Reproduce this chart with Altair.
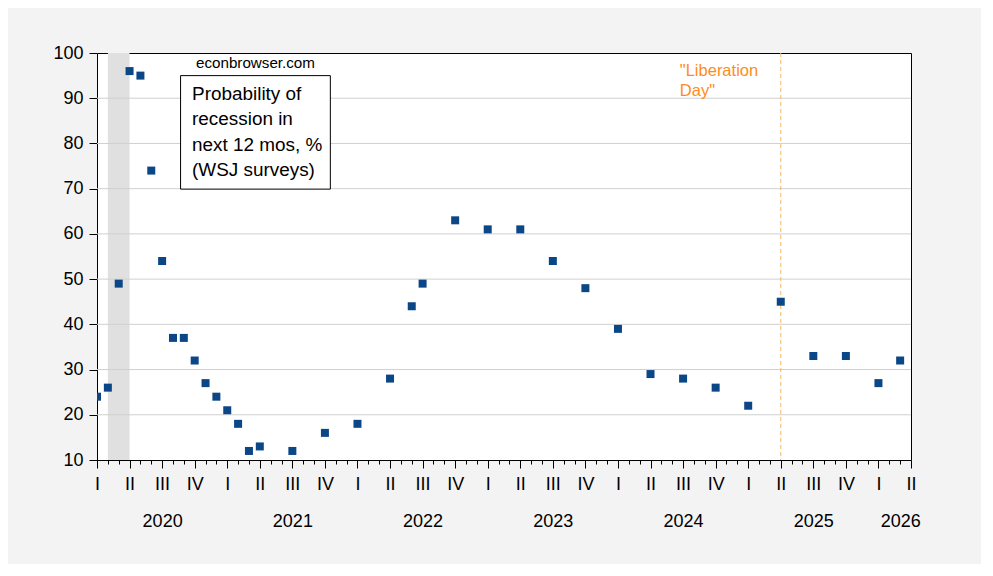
import pandas as pd
import altair as alt

# WSJ survey: probability of recession in next 12 months, %
survey_dates = ['2020-01', '2020-02', '2020-03', '2020-04', '2020-05', '2020-06',
                '2020-07', '2020-08', '2020-09', '2020-10', '2020-11', '2020-12',
                '2021-01', '2021-02', '2021-03', '2021-04', '2021-07', '2021-10',
                '2022-01', '2022-04', '2022-06', '2022-07', '2022-10', '2023-01',
                '2023-04', '2023-07', '2023-10', '2024-01', '2024-04', '2024-07',
                '2024-10', '2025-01', '2025-04', '2025-07', '2025-10', '2026-01',
                '2026-03']
prob = [24, 26, 49, 96, 95, 74, 54, 37, 37, 32, 27, 24,
        21, 18, 12, 13, 12, 16, 18, 28, 44, 49, 63, 61,
        61, 54, 48, 39, 29, 28, 26, 22, 45, 33, 33, 27,
        32]

recession_start = ['2020-02']
recession_end = ['2020-04']
liberation_day = ['2025-04']
y_ticks = [10, 20, 30, 40, 50, 60, 70, 80, 90, 100]
quarter_names = ['I', 'II', 'III', 'IV']
year_labels = ['2020', '2021', '2022', '2023', '2024', '2025', '2026']
year_label_pos = ['2020-07', '2021-07', '2022-07', '2023-07', '2024-07', '2025-07', '2026-03']


def month_index(s):
    y, m = s.split('-')
    return (int(y) - 2020) * 12 + int(m) - 1


pts = pd.DataFrame({'m': [month_index(d) for d in survey_dates], 'p': prob})
rec = pd.DataFrame({'start': [month_index(d) for d in recession_start],
                    'end': [month_index(d) for d in recession_end]})
lib = pd.DataFrame({'m': [month_index(d) for d in liberation_day]})
grid = pd.DataFrame({'v': y_ticks[1:-1]})
one = pd.DataFrame({'k': [0]})
yp = [month_index(d) for d in year_label_pos]

W, H = 814, 407
FONT = 'Liberation Sans'
xs = alt.Scale(domain=[0, 75], nice=False, zero=False)
ys = alt.Scale(domain=[10, 100], nice=False, zero=False)

# quarter numerals under every quarter tick, year one (tall) line further down
qlab = "(datum.value % 3 == 0 ? " + str(quarter_names) + "[(datum.value / 3) % 4] : '')"
x_expr = ("indexof(" + str(yp) + ", datum.value) >= 0 ? [" + qlab + ", "
          + str(year_labels) + "[indexof(" + str(yp) + ", datum.value)]] : " + qlab)

x_axis = alt.Axis(values=list(range(0, 76)), labelExpr=x_expr, title=None, domain=False,
                  grid=False, tickSize=8, tickColor='black',
                  tickDash={'condition': {'test': 'datum.value % 3 != 0', 'value': [4, 20]},
                            'value': [8, 0]},
                  labelFontSize=18, labelFont=FONT, labelColor='black', labelPadding=7,
                  labelLineHeight=37.5, labelOverlap=False, labelFlush=False, labelBound=False)
y_axis = alt.Axis(values=y_ticks, title=None, grid=False, domain=False, tickSize=8,
                  tickColor='black', labelFontSize=18, labelFont=FONT, labelColor='black',
                  labelPadding=6, minExtent=80, maxExtent=80)


def X(v, **kw):
    return alt.X(v, scale=xs, axis=x_axis, **kw)


def Y(v, **kw):
    return alt.Y(v, scale=ys, axis=y_axis, **kw)


def XD(v):
    return alt.XDatum(v, scale=xs, axis=x_axis)


def YD(v):
    return alt.YDatum(v, scale=ys, axis=y_axis)


shade = alt.Chart(rec).mark_rect(color='#e0e0e0').encode(
    x=X('start:Q'), x2='end:Q', y=YD(100), y2=alt.datum(10),
)

gridlines = alt.Chart(grid).mark_rule(color='#d0d0d0', strokeWidth=1).encode(y=Y('v:Q'))

lib_line = alt.Chart(lib).mark_rule(color='#f5b860', strokeDash=[4, 3], strokeWidth=1).encode(
    x=X('m:Q')
)

points = alt.Chart(pts).mark_square(size=64, color='#0b4687', opacity=1, clip=True).encode(
    x=X('m:Q'), y=Y('p:Q'),
)

box = alt.Chart(one).mark_rect(fill='white', stroke='black', strokeWidth=1).encode(
    x=XD(7.7), x2=alt.datum(21.5), y=YD(95.0), y2=alt.datum(69.9),
)

box_text = alt.Chart(one).mark_text(align='left', baseline='top', fontSize=18.9, font=FONT,
                                    lineHeight=25.3, color='black').encode(
    x=XD(8.76), y=YD(92.9),
    text=alt.value(['Probability of', 'recession in', 'next 12 mos, %', '(WSJ surveys)']),
)

source = alt.Chart(one).mark_text(fontSize=15.2, font=FONT, color='black').encode(
    x=XD(14.6), y=YD(97.7), text=alt.value('econbrowser.com')
)

lib_text = alt.Chart(one).mark_text(align='left', baseline='top', fontSize=16.5, font=FONT,
                                    lineHeight=20, color='#ff8c1a').encode(
    x=XD(53.7), y=YD(97.7), text=alt.value(['"Liberation', 'Day"']),
)

chart = alt.layer(shade, gridlines, lib_line, points, box, box_text, source, lib_text).properties(
    width=W, height=H, background='#f3f3f3',
    padding={'left': 9, 'top': 36, 'right': 60, 'bottom': 33},
).configure_view(
    stroke='black', strokeWidth=1, fill='white'
)

chart.save('out.html', embed_options={'renderer': 'svg', 'actions': False})
